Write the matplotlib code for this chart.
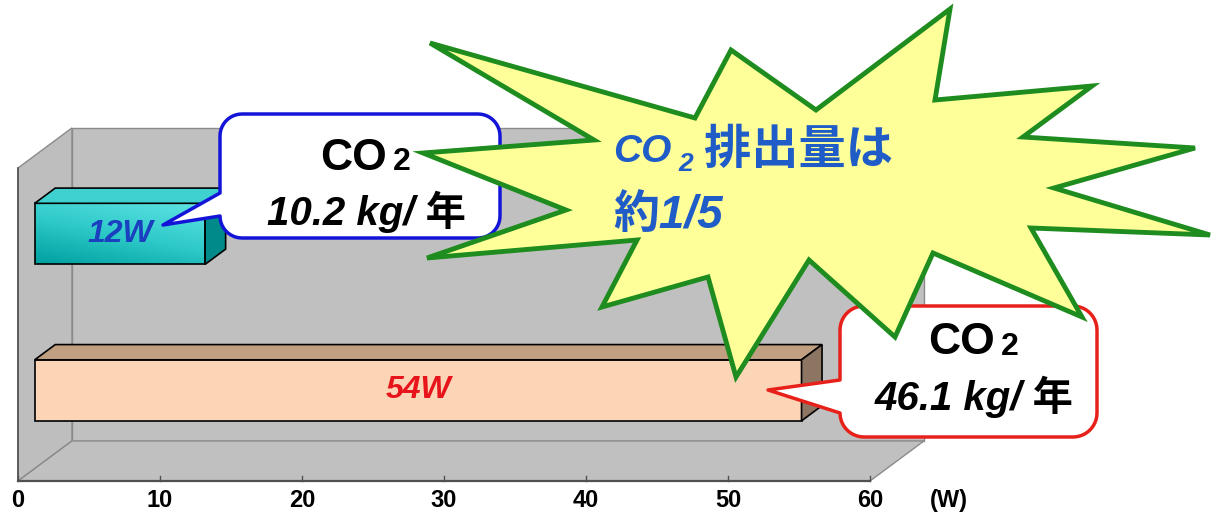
import numpy as np
import matplotlib.pyplot as plt
from matplotlib.patches import Polygon
from matplotlib.colors import LinearSegmentedColormap

plt.rcParams['font.family'] = ['Liberation Sans', 'Noto Sans CJK JP']

# lamp power in W, bottom bar first
watts = [54, 12]
bar_labels = ['54W', '12W']
co2_year = [46.1, 10.2]
xticks = [0, 10, 20, 30, 40, 50, 60]

W, H = 1212, 513
fig = plt.figure(figsize=(W / 100, H / 100), dpi=100)
ax = fig.add_axes([18 / W, 32 / H, 852 / W, 313 / H])

# oblique depth offset of the chart box (data units per unit of depth)
DX, DY = 3.8, 0.256
lo, hi = -0.5, 1.5


def P(v, c, d=0.0):
    return (v + d * DX, c + d * DY)


def face(pts, **kw):
    poly = Polygon(pts, closed=True, clip_on=False, **kw)
    ax.add_patch(poly)
    return poly


# walls and floor
grey = '#c0c0c0'
edge = '#8a8a8a'
face([P(0, lo, 1), P(60, lo, 1), P(60, hi, 1), P(0, hi, 1)], fc=grey, ec=edge, lw=1)
face([P(0, lo, 0), P(0, lo, 1), P(0, hi, 1), P(0, hi, 0)], fc='#bebebe', ec=edge, lw=1)
face([P(0, lo, 0), P(60, lo, 0), P(60, lo, 1), P(0, lo, 1)], fc=grey, ec=edge, lw=1)
ax.plot(*zip(P(0, lo), P(60, lo)), color='#505050', lw=1.6, clip_on=False)
ax.plot(*zip(P(0, lo), P(0, hi)), color='#505050', lw=1.2, clip_on=False)

tick_font = ['Liberation Sans Narrow', 'Liberation Sans']
for t in xticks:
    ax.plot([t, t], [lo, lo + 0.035], color='#505050', lw=1, clip_on=False)
    ax.annotate(str(t), (t, lo), xytext=(0, -14), textcoords='offset points',
                ha='center', va='center', fontsize=17, weight='bold', family=tick_font)
ax.annotate('(W)', (60, lo), xytext=(57, -14), textcoords='offset points',
            ha='center', va='center', fontsize=17, weight='bold', family=tick_font)

# bars
d0, d1, hh = 0.31, 0.69, 0.195
styles = [
    dict(front='#fbd5b5', top='#c0a080', side='#8c7563', text='#e8141b'),
    dict(front='#33cccc', top='#3fd0d0', side='#008a8a', text='#1a3fbf'),
]
cyan = LinearSegmentedColormap.from_list('cyan', ['#00a0a0', '#30caca', '#60e4e4'])

for c, (w, lab, st) in enumerate(zip(watts, bar_labels, styles)):
    front = face([P(0, c - hh, d0), P(w, c - hh, d0), P(w, c + hh, d0), P(0, c + hh, d0)],
                 fc=st['front'], ec='none', zorder=3)
    if lab == '12W':
        gx, gy = np.meshgrid(np.linspace(0, 1, 64), np.linspace(0, 1, 64))
        im = ax.imshow(0.35 * gx + 0.65 * gy, origin='lower', cmap=cyan, aspect='auto',
                       extent=(P(0, 0, d0)[0], P(w, 0, d0)[0],
                               c - hh + d0 * DY, c + hh + d0 * DY), zorder=3)
        im.set_clip_path(front)
    face([P(0, c - hh, d0), P(w, c - hh, d0), P(w, c + hh, d0), P(0, c + hh, d0)],
         fc='none', ec='black', lw=1.2, zorder=4)
    face([P(0, c + hh, d0), P(w, c + hh, d0), P(w, c + hh, d1), P(0, c + hh, d1)],
         fc=st['top'], ec='black', lw=1.2, zorder=4)
    face([P(w, c - hh, d0), P(w, c - hh, d1), P(w, c + hh, d1), P(w, c + hh, d0)],
         fc=st['side'], ec='black', lw=1.2, zorder=4)
    ax.text(*P(w / 2, c, d0), lab, ha='center', va='center', fontsize=23,
            weight='bold', style='italic', color=st['text'], zorder=5)

ax.set_xlim(0, 60)
ax.set_ylim(lo, hi)
ax.axis('off')

# callouts and burst drawn in pixel space on top
ov = fig.add_axes([0, 0, 1, 1], zorder=3)
ov.set_xlim(0, W)
ov.set_ylim(H, 0)
ov.axis('off')


def callout(x0, y0, x1, y1, r, tip, t_top, t_bot):
    def arc(cx, cy, a0, a1):
        a = np.radians(np.linspace(a0, a1, 12))
        return list(zip(cx + r * np.cos(a), cy + r * np.sin(a)))
    pts = [(x0 + r, y0), (x1 - r, y0)]
    pts += arc(x1 - r, y0 + r, -90, 0)
    pts += arc(x1 - r, y1 - r, 0, 90)
    pts += arc(x0 + r, y1 - r, 90, 180)
    pts += [(x0, t_bot), tip, (x0, t_top)]
    pts += arc(x0 + r, y0 + r, 180, 270)
    return pts


ov.add_patch(Polygon(callout(220, 114, 500, 238, 22, (163, 225), 193, 216),
                     fc='white', ec='#1414d8', lw=2.5, joinstyle='round'))
ov.add_patch(Polygon(callout(840, 306, 1097, 437, 24, (768, 390), 380, 413),
                     fc='white', ec='#e8201a', lw=2.5, joinstyle='round'))


def co2_label(x, y, value, size):
    t = ov.text(x - 8, y, 'CO', ha='center', va='center', fontsize=size + 3, weight='bold')
    ov.annotate('2', xy=(1, 0), xycoords=t, xytext=(4, 1), textcoords='offset points',
                ha='left', va='bottom', fontsize=size - 6, weight='bold')
    ov.text(x + 4, y + 54, f'{value} kg/ 年', ha='center', va='center', fontsize=size,
            weight='bold', style='italic')


co2_label(362, 158, co2_year[1], 29)
co2_label(970, 343, co2_year[0], 29)

burst = [(430, 43), (695, 118), (731, 50), (816, 110), (950, 9), (935, 100),
         (1092, 86), (1023, 137), (1195, 148), (1054, 188), (1210, 235), (1031, 228),
         (1082, 317), (933, 253), (895, 337), (809, 260), (736, 377), (708, 277),
         (602, 307), (637, 240), (427, 258), (566, 210), (423, 153), (594, 140)]
ov.add_patch(Polygon(burst, fc='#ffff99', ec='#1e8c1e', lw=3.5, joinstyle='miter'))

blue = '#1f5cc8'
t = ov.text(613, 152, 'CO', ha='left', va='center', fontsize=28, weight='bold',
            style='italic', color=blue)
ov.annotate('2', xy=(1, 0), xycoords=t, xytext=(5, -4), textcoords='offset points',
            ha='left', va='bottom', fontsize=19, weight='bold', style='italic', color=blue)
ov.text(704, 152, '排出量は', ha='left', va='center', fontsize=34, weight='bold',
        style='italic', color=blue)
ov.text(613, 216, '約1/5', ha='left', va='center', fontsize=33, weight='bold',
        style='italic', color=blue)

fig.savefig('out.png', dpi=100)
